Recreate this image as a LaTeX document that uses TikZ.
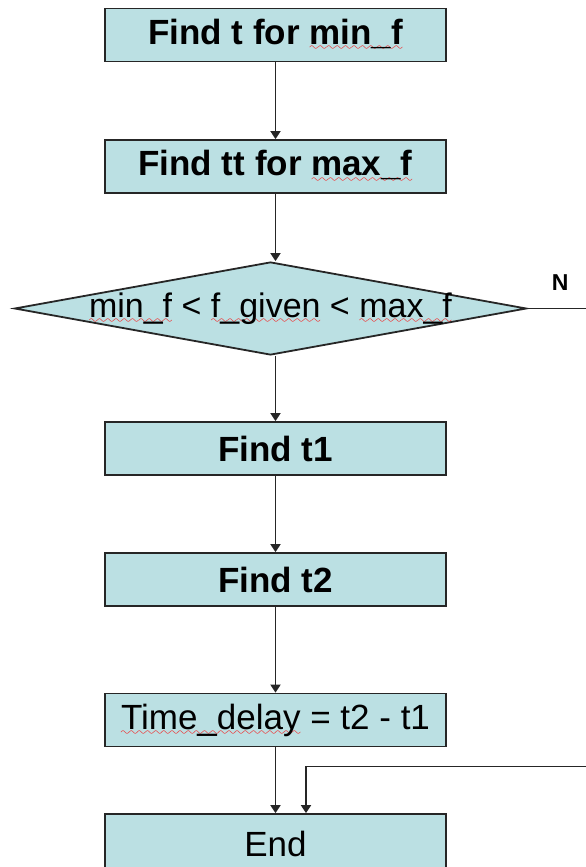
\documentclass[tikz,border=0pt]{standalone}
\usepackage{fontspec}
\setmainfont{Liberation Sans}
\usetikzlibrary{shapes}
\usetikzlibrary{arrows.meta}

\definecolor{boxfill}{RGB}{187,224,227}
\font\wavefont=lasy10 at 12pt
\newcommand\squig[1]{\setbox0\hbox{#1}\rlap{\textcolor{red}{\lower6.5pt\hbox to\wd0{\xleaders\hbox{\wavefont\char58}\hfil}}}\box0\relax}

\begin{document}
\begin{tikzpicture}[
  stepbox/.style={rectangle, draw=black!85, fill=boxfill, line width=1.8pt, minimum width=341pt, minimum height=53pt, inner sep=0pt, font=\fontsize{35pt}{40pt}\selectfont\bfseries},
  plainbox/.style={stepbox, font=\fontsize{35pt}{40pt}\selectfont},
  flow/.style={-{Triangle[width=10pt,length=8pt]}, line width=1.8pt, draw=black!85}]
\useasboundingbox (-275.5pt,35pt) rectangle (310.5pt,-832pt);
\draw (0,0) node[stepbox, name = mint]{Find t for \squig{min\_f}};
\draw (mint) + (0,-131.5pt) node[stepbox, name = maxt]{Find tt for \squig{max\_f}};
\draw (maxt) + (-5pt,-142pt) node[diamond, draw = black!85, fill = boxfill, line width = 1.8pt, aspect = 5.5, minimum width = 512pt, minimum height = 93pt, inner sep = 0pt, font = \fontsize{34pt}{38pt}\selectfont, name = test]{\makebox[300pt]{\squig{min\_f} < \squig{f\_given} < \squig{max\_f}}};
\draw (maxt) + (0,-282pt) node[stepbox, name = tone]{Find t1};
\draw (tone) + (0,-131pt) node[stepbox, name = ttwo]{Find t2};
\draw (ttwo) + (0,-140.5pt) node[plainbox, name = delay]{\squig{Time\_delay} = t2 - t1};
\draw (delay) + (0,-124pt) node[plainbox, minimum height = 60pt, name = stop]{End};
\draw[flow] (mint) -- (maxt);
\draw[flow] (maxt) -- (maxt |- test.north);
\draw[flow] (test.south -| tone) -- (tone);
\draw[flow] (tone) -- (ttwo);
\draw[flow] (ttwo) -- (delay);
\draw[flow] (delay) -- (stop);
\draw[line width = 1.8pt, draw = black!85] (test.east) -- + (80pt,0) node[pos = 0.41, above = 17pt, inner sep = 0pt, font = \fontsize{23pt}{26pt}\selectfont\bfseries]{N};
\path (delay.south) + (330pt,-19pt) coordinate (back);
\draw[flow] (back) -| ([xshift = 30.5pt]stop.north);
\end{tikzpicture}
\end{document}
